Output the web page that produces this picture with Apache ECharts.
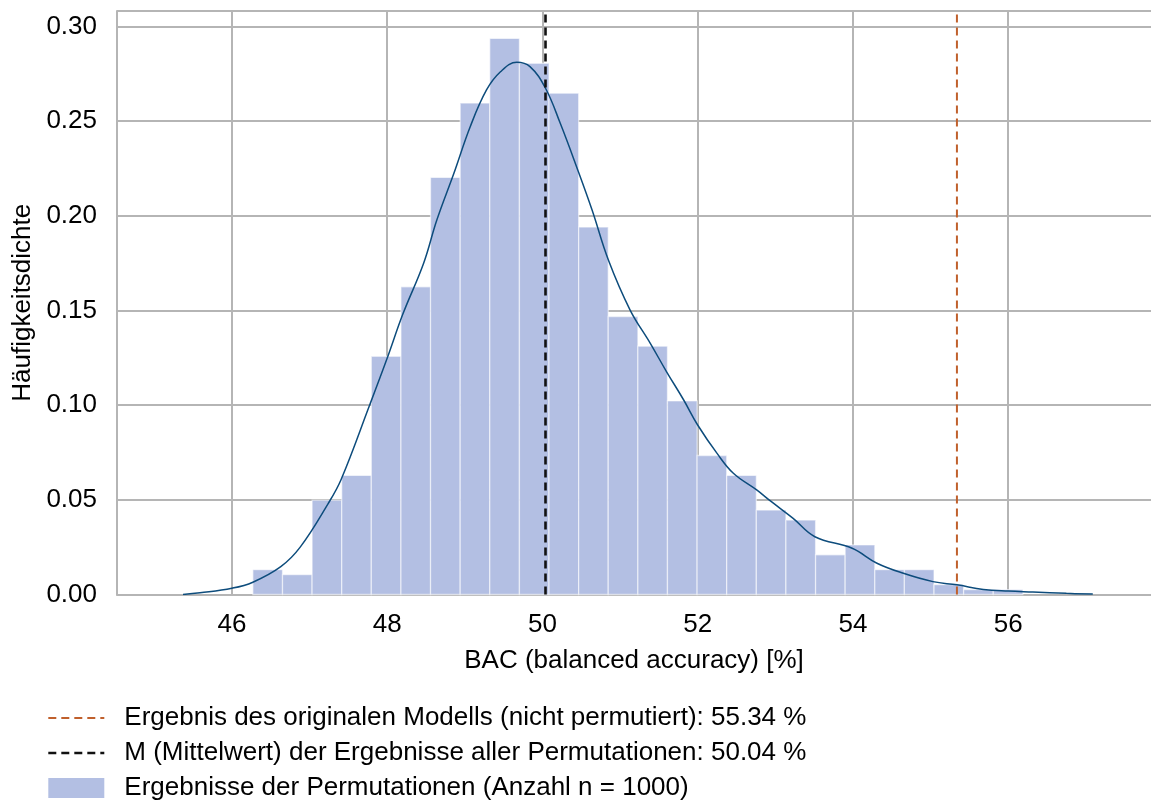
<!DOCTYPE html>
<html>
<head>
<meta charset="utf-8">
<script src="https://cdn.jsdelivr.net/npm/echarts@6/dist/echarts.min.js"></script>
<style>
html,body{margin:0;padding:0;background:#fff;}
#chart{width:1151px;height:804px;}
</style>
</head>
<body>
<div id="chart"></div>
<script>
// ---- data ----
const binEdges = [46.27, 46.652, 47.033, 47.415, 47.796, 48.178, 48.559, 48.941, 49.322, 49.704,
  50.085, 50.467, 50.848, 51.23, 51.611, 51.993, 52.374, 52.756, 53.137, 53.519,
  53.9, 54.282, 54.663, 55.045, 55.426, 55.808, 56.189];
const density = [0.0131, 0.0105, 0.0498, 0.0629, 0.1258, 0.1625, 0.2202, 0.2595, 0.2936, 0.2805,
  0.2647, 0.194, 0.1468, 0.1311, 0.1022, 0.0734, 0.0629, 0.0446, 0.0393, 0.021,
  0.0262, 0.0131, 0.0131, 0.0052, 0.0026, 0.0026];
const kdeX = [45.37, 45.59, 46.00, 46.27, 46.63, 46.88, 47.24, 47.41, 47.77,
  48.00, 48.20, 48.47, 48.64, 48.86, 49.07, 49.28, 49.46, 49.67,
  49.84, 50.04, 50.23, 50.44, 50.64, 50.85, 51.13, 51.39, 51.60, 51.82,
  52.00, 52.25, 52.46, 52.76, 52.95, 53.23, 53.51, 53.99, 54.31, 54.65,
  55.03, 55.34, 55.68, 56.00, 56.32, 56.75, 57.09];
const kdeY = [0.0000, 0.0009, 0.0033, 0.0065, 0.0147, 0.0250, 0.0480, 0.0610, 0.0995,
  0.1247, 0.1478, 0.1749, 0.1977, 0.2224, 0.2470, 0.2664, 0.2760, 0.2810,
  0.2787, 0.2673, 0.2488, 0.2259, 0.2030, 0.1766, 0.1502, 0.1326, 0.1176, 0.1027,
  0.0895, 0.0745, 0.0640, 0.0552, 0.0490, 0.0402, 0.0305, 0.0244, 0.0165, 0.0112,
  0.0068, 0.0051, 0.0027, 0.0018, 0.0013, 0.0006, 0.0002];
const originalResult = 55.34;
const meanResult = 50.04;
const xTicks = [46, 48, 50, 52, 54, 56];
const legendNames = [
  'Ergebnis des originalen Modells (nicht permutiert): 55.34 %',
  'M (Mittelwert) der Ergebnisse aller Permutationen: 50.04 %',
  'Ergebnisse der Permutationen (Anzahl n = 1000)'
];
const xName = 'BAC (balanced accuracy) [%]';
const yName = 'Häufigkeitsdichte';

// ---- layout ----
const X_MIN = 44.52, X_MAX = 57.84, Y_MAX = 0.3081;
const FONT = "'Liberation Sans', Arial, Helvetica, sans-serif";
const GRID = '#b5b5b5';
const ORANGE = '#c0602c', BLACK = '#111111', BAR = '#b3bfe3', KDE = '#0d4c7c';

const histData = density.map((d, i) => [binEdges[i], binEdges[i + 1], d]);
const kdeData = kdeX.map((x, i) => [x, kdeY[i]]);

const chart = echarts.init(document.getElementById('chart'), null, {renderer: 'canvas'});
chart.setOption({
  animation: false,
  backgroundColor: '#fff',
  textStyle: {fontFamily: FONT},
  grid: {left: 117, right: 0, top: 11, bottom: 209.5, containLabel: false},
  xAxis: {
    type: 'value', min: X_MIN, max: X_MAX,
    name: xName, nameLocation: 'middle', nameGap: 53,
    nameTextStyle: {fontSize: 26, color: '#000', fontFamily: FONT},
    axisLine: {show: true, lineStyle: {color: GRID, width: 2}},
    axisTick: {show: false, customValues: xTicks},
    axisLabel: {customValues: xTicks, fontSize: 26, color: '#000', margin: 17, fontFamily: FONT},
    splitLine: {show: true, lineStyle: {color: GRID, width: 2}}
  },
  yAxis: {
    type: 'value', min: 0, max: Y_MAX, interval: 0.05,
    name: yName, nameLocation: 'middle', nameGap: 69,
    nameTextStyle: {fontSize: 26, color: '#000', fontFamily: FONT},
    axisLine: {show: true, lineStyle: {color: GRID, width: 2}},
    axisTick: {show: false},
    axisLabel: {fontSize: 26, color: '#000', margin: 20, showMaxLabel: false, fontFamily: FONT,
      formatter: v => v.toFixed(2)},
    splitLine: {show: true, lineStyle: {color: GRID, width: 2}}
  },
  legend: {
    orient: 'vertical', left: 47, top: 705, height: 99, padding: 0,
    itemWidth: 56, itemHeight: 20, itemGap: 9,
    lineStyle: {width: 2.4},
    textStyle: {fontSize: 26, color: '#000', fontFamily: FONT, lineHeight: 26, padding: [0, 0, 0, 15]},
    data: [
      {name: legendNames[0], itemStyle: {opacity: 0}, lineStyle: {width: 2.2, color: ORANGE, type: [8, 5]}},
      {name: legendNames[1], itemStyle: {opacity: 0}, lineStyle: {width: 2.6, color: BLACK, type: [8, 5]}},
      {name: legendNames[2], icon: 'rect'}
    ]
  },
  series: [
    {
      name: legendNames[2], type: 'custom',
      itemStyle: {color: BAR},
      encode: {x: [0, 1], y: 2},
      data: histData,
      z: 2,
      renderItem: (params, api) => {
        const p0 = api.coord([api.value(0), api.value(2)]);
        const p1 = api.coord([api.value(1), 0]);
        return {
          type: 'rect',
          shape: {x: p0[0], y: p0[1], width: p1[0] - p0[0], height: p1[1] - p0[1]},
          style: {fill: BAR, stroke: 'rgba(255,255,255,0.55)', lineWidth: 1.3}
        };
      }
    },
    {
      name: 'kde', type: 'line', data: kdeData, smooth: 0.4,
      symbol: 'none', z: 3,
      lineStyle: {color: KDE, width: 1.5}
    },
    {
      name: legendNames[0], type: 'line', symbol: 'none', z: 4,
      data: [[originalResult, 0], [originalResult, Y_MAX]],
      itemStyle: {color: ORANGE},
      lineStyle: {color: ORANGE, width: 2, type: [8, 5]}
    },
    {
      name: legendNames[1], type: 'line', symbol: 'none', z: 4,
      data: [[meanResult, 0], [meanResult, Y_MAX]],
      itemStyle: {color: BLACK},
      lineStyle: {color: BLACK, width: 2.6, type: [8, 5]}
    }
  ]
});
</script>
</body>
</html>
